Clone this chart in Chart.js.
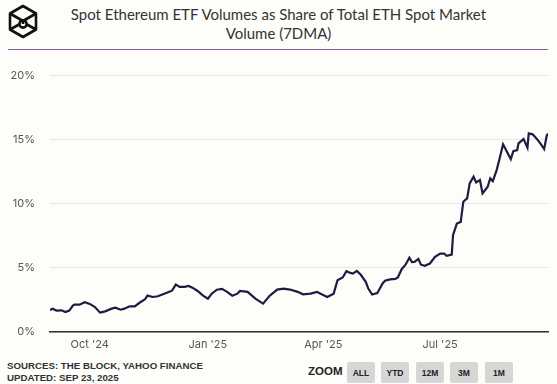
<!DOCTYPE html>
<html>
<head>
<meta charset="utf-8">
<script src="https://cdn.jsdelivr.net/npm/chart.js@4.4.1/dist/chart.umd.min.js"></script>
<style>
  html, body { margin:0; padding:0; background:#fdfdfa; }
  body { width:557px; height:384px; position:relative; overflow:hidden; font-family:"Inter","Noto Sans",sans-serif; }
  #logo { position:absolute; left:7px; top:4px; }
  #title { position:absolute; left:0; top:5px; width:557px; text-align:center; font-family:"Lato","Noto Sans",sans-serif; font-size:15px; line-height:19px; color:#333; }
  #rule { position:absolute; left:8px; top:49px; width:540px; height:1px; background:#8d5fa8; }
  #wrap { position:absolute; left:0; top:54px; width:557px; height:301px; }
  #src { position:absolute; left:7px; top:360px; font-size:9.7px; line-height:12px; font-weight:700; color:#333; font-family:"Liberation Sans","Arial",sans-serif; }
  #zoomlbl { position:absolute; left:308px; top:365px; font-size:11.5px; font-weight:700; color:#222; font-family:"Liberation Sans",sans-serif; }
  .btn { position:absolute; top:362px; width:28px; height:21px; background:#d6d6d6; border-radius:2px; font-size:8.5px; font-weight:700; color:#222; text-align:center; line-height:23px; font-family:"Liberation Sans",sans-serif; }
</style>
</head>
<body>
<svg id="logo" width="32" height="36" viewBox="0 0 32 36">
  <g fill="none" stroke="#111" stroke-width="2.6" stroke-linejoin="round">
    <polygon points="16,2 29,9.5 29,25.5 16,33 3,25.5 3,9.5"/>
    <polyline points="3,9.5 16,17 29,9.5"/>
    <line x1="16" y1="17" x2="16" y2="20"/>
    <polyline points="3,25.5 12,20.5"/>
    <polyline points="29,25.5 20,20.5"/>
    <circle cx="16" cy="20" r="3.6"/>
  </g>
</svg>
<div id="title">Spot Ethereum ETF Volumes as Share of Total ETH Spot Market<br>Volume (7DMA)</div>
<div id="rule"></div>
<div id="wrap"><canvas id="c" width="557" height="301"></canvas></div>
<div id="src">SOURCES: THE BLOCK, YAHOO FINANCE<br>UPDATED: SEP 23, 2025</div>
<div id="zoomlbl">ZOOM</div>
<div class="btn" style="left:347px">ALL</div>
<div class="btn" style="left:381px">YTD</div>
<div class="btn" style="left:416px">12M</div>
<div class="btn" style="left:450px">3M</div>
<div class="btn" style="left:485px">1M</div>
<script>
// Days since 2024-08-31
const dayOffsets = [0,2,5,9,12,15,18,19,23,27,31,35,39,43,48,51,55,58,62,66,70,74,76,80,84,88,92,95,98,101,105,108,111,115,119,123,126,130,134,138,142,146,148,154,160,166,171,177,182,187,193,197,203,208,212,216,221,224,228,231,234,236,239,242,246,248,251,255,259,261,265,269,271,274,277,280,282,284,287,289,292,296,300,304,307,309,313,314,317,320,322,325,327,330,332,335,337,341,343,345,348,350,353,356,359,361,364,365,369,372,373,376,379,382,385,387,388];
// ETF share of spot volume, %
const sharePct = [1.72,1.82,1.67,1.69,1.56,1.67,2.08,2.13,2.13,2.32,2.19,1.95,1.51,1.61,1.82,1.90,1.74,1.82,2.00,2.00,2.30,2.55,2.84,2.73,2.79,2.94,3.10,3.22,3.70,3.52,3.52,3.59,3.46,3.20,2.86,2.60,2.99,3.30,3.37,3.13,2.83,2.99,3.20,3.13,2.60,2.21,2.81,3.31,3.39,3.31,3.13,2.94,2.99,3.13,2.92,2.73,2.99,4.04,4.25,4.74,4.61,4.56,4.77,4.48,3.91,3.39,2.92,3.03,3.77,4.00,4.10,4.14,4.26,4.90,5.25,5.79,5.45,5.47,5.70,5.25,5.16,5.34,5.86,6.12,6.12,5.94,6.04,7.55,8.46,8.59,10.16,10.42,11.59,12.11,11.67,11.85,10.81,11.33,11.98,11.77,12.63,13.41,14.64,14.06,13.49,14.11,14.19,14.71,15.05,14.38,15.49,15.42,15.10,14.71,14.27,15.31,15.49];
const tickDays = [31,123,213,304];
const tickLabels = ["Oct '24","Jan '25","Apr '25","Jul '25"];
const yTicks = [0,5,10,15,20];

const pts = dayOffsets.map((d,i)=>({x:d,y:sharePct[i]}));
new Chart(document.getElementById('c'), {
  type:'line',
  data:{ datasets:[{ data:pts, borderColor:'#1e1c40', borderWidth:2.2, pointRadius:0, tension:0, fill:false }]},
  options:{
    responsive:false, animation:false,
    layout:{ padding:{ top:8, right:9, left:0, bottom:0 } },
    plugins:{ legend:{display:false}, tooltip:{enabled:false} },
    scales:{
      x:{ type:'linear', min:0, max:388,
        afterBuildTicks:(ax)=>{ ax.ticks = tickDays.map(v=>({value:v})); },
        afterFit:(ax)=>{ ax.height = 23; },
        grid:{ display:false, drawTicks:false },
        border:{ display:true, color:'#333', width:1.5 },
        ticks:{ autoSkip:false, maxRotation:0, padding:6, color:'#555', font:{family:'Inter, Noto Sans, sans-serif', size:11},
          callback:(v)=>{ const i = tickDays.indexOf(v); return i>=0 ? tickLabels[i] : ''; } }
      },
      y:{ min:0, max:20,
        afterBuildTicks:(ax)=>{ ax.ticks = yTicks.map(v=>({value:v})); },
        afterFit:(ax)=>{ ax.width = 50; },
        grid:{ color:'#e6e6e6', lineWidth:1, drawTicks:false },
        border:{ display:false },
        ticks:{ padding:15, color:'#555', font:{family:'Inter, Noto Sans, sans-serif', size:11}, callback:(v)=>v+'%' }
      }
    }
  }
});
</script>
</body>
</html>
